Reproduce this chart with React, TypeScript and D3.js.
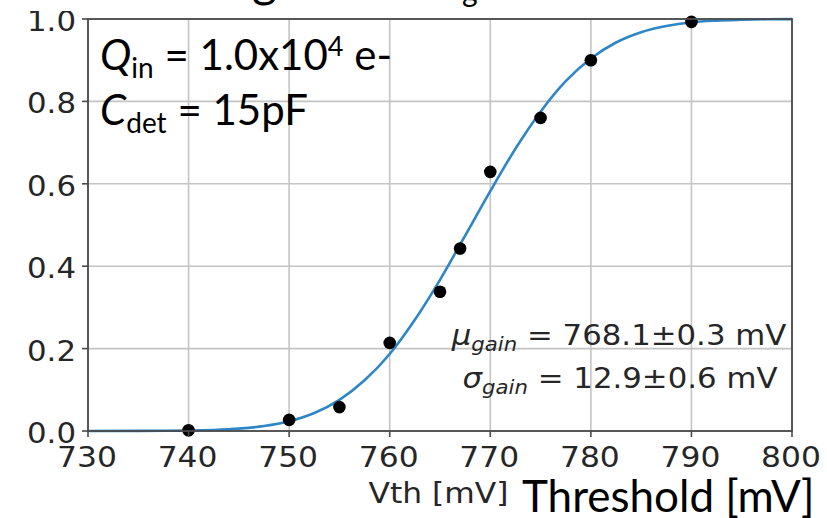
import React from "react";
import * as d3 from "d3";

const thresholds = [740, 750, 755, 760, 765, 767, 770, 775, 780, 790];
const efficiency = [0.002, 0.027, 0.058, 0.214, 0.338, 0.443, 0.629, 0.76, 0.9, 0.993];
const efficiencyErr = [0.004, 0.008, 0.009, 0.013, 0.014, 0.014, 0.014, 0.013, 0.01, 0.005];

const fitX = [730, 735, 740, 742.5, 745, 747.5, 750, 752.5, 755, 757.5, 760, 762.5, 765, 767.5, 770, 772.5, 775, 777.5, 780, 782.5, 785, 787.5, 790, 792.5, 795, 797.5, 800];
const fitY = [0.0, 0.0002, 0.001, 0.0025, 0.0057, 0.012, 0.0236, 0.0437, 0.0757, 0.123, 0.187, 0.27, 0.367, 0.474, 0.582, 0.685, 0.775, 0.849, 0.904, 0.943, 0.968, 0.983, 0.992, 0.996, 0.998, 0.9994, 0.9998];

const xTicks = [730, 740, 750, 760, 770, 780, 790, 800];
const yTicks = [0, 0.2, 0.4, 0.6, 0.8, 1.0];

const W = 827;
const H = 518;
const left = 88, right = 792, top = 19, bottom = 431;
const SX = 1.12;

function DText(props: { x: number; y: number; anchor?: string; size: number; children: React.ReactNode; fill?: string }) {
  const { x, y, anchor = "start", size, children, fill = "#262626" } = props;
  return (
    <g transform={`translate(${x},${y}) scale(${SX},1)`}>
      <text x={0} y={0} textAnchor={anchor as any} fontFamily="DejaVu Sans" fontSize={size} fill={fill}>
        {children}
      </text>
    </g>
  );
}

export default function App() {
  const x = d3.scaleLinear().domain([730, 800]).range([left, right]);
  const y = d3.scaleLinear().domain([0, 1]).range([bottom, top]);
  const line = d3
    .line<number>()
    .x((_, i) => x(fitX[i]))
    .y((d) => y(d))
    .curve(d3.curveMonotoneX);
  const fitPath = line(fitY) || "";
  const cal = "Lato, 'Open Sans', sans-serif";

  return (
    <svg width={W} height={H} style={{ position: "absolute", left: 0, top: 0, background: "#fff" }}>
      <defs>
        <clipPath id="plotclip">
          <rect x={left} y={top - 2} width={right - left} height={bottom - top + 4} />
        </clipPath>
        <clipPath id="titleclip">
          <rect x={0} y={0} width={W} height={16} />
        </clipPath>
      </defs>
      <rect x={0} y={0} width={W} height={H} fill="#fff" />
      {/* title fragments cut off at top */}
      <g clipPath="url(#titleclip)">
        <text x={252} y={-3} fontFamily={cal} fontSize={48} fill="#000">g</text>
        <text x={462} y={2} fontFamily={cal} fontSize={30} fill="#000">g</text>
      </g>
      {/* grid */}
      {xTicks.map((t) => (
        <line key={"gx" + t} x1={x(t)} x2={x(t)} y1={top} y2={bottom} stroke="#c4c4c4" strokeWidth={1.6} />
      ))}
      {yTicks.map((t) => (
        <line key={"gy" + t} x1={left} x2={right} y1={y(t)} y2={y(t)} stroke="#c4c4c4" strokeWidth={1.6} />
      ))}
      {/* fit curve */}
      <path d={fitPath} fill="none" stroke="#2f86c6" strokeWidth={2.6} clipPath="url(#plotclip)" />
      {/* error bars */}
      {thresholds.map((t, i) => (
        <line
          key={"e" + t}
          x1={x(t)}
          x2={x(t)}
          y1={y(efficiency[i] - efficiencyErr[i])}
          y2={y(efficiency[i] + efficiencyErr[i])}
          stroke="#000"
          strokeWidth={2.8}
        />
      ))}
      {thresholds.map((t, i) => (
        <circle key={"p" + t} cx={x(t)} cy={y(efficiency[i])} r={6.3} fill="#000" />
      ))}
      {/* spines */}
      <rect x={left} y={top} width={right - left} height={bottom - top} fill="none" stroke="#4a4a4a" strokeWidth={1.8} />
      {/* ticks */}
      {xTicks.map((t) => (
        <line key={"tx" + t} x1={x(t)} x2={x(t)} y1={bottom} y2={bottom + 6} stroke="#4a4a4a" strokeWidth={1.6} />
      ))}
      {yTicks.map((t) => (
        <line key={"ty" + t} x1={left - 6} x2={left} y1={y(t)} y2={y(t)} stroke="#4a4a4a" strokeWidth={1.6} />
      ))}
      {xTicks.map((t) => (
        <DText key={"lx" + t} x={x(t) - 1} y={467} anchor="middle" size={28}>
          {String(t)}
        </DText>
      ))}
      {yTicks.map((t) => (
        <DText key={"ly" + t} x={76} y={y(t) + 12} anchor="end" size={27.5}>
          {t.toFixed(1)}
        </DText>
      ))}
      <rect x={0} y={0} width={86} height={11} fill="#fff" />
      <DText x={438.5} y={503} anchor="middle" size={28}>
        Vth [mV]
      </DText>
      {/* fit result annotations */}
      <DText x={619} y={345} anchor="middle" size={27.5}>
        <tspan fontStyle="italic">μ</tspan>
        <tspan fontStyle="italic" fontSize={19} dy={6}>gain</tspan>
        <tspan dy={-6}> = 768.1±0.3 mV</tspan>
      </DText>
      <DText x={620} y={388} anchor="middle" size={27.5}>
        <tspan fontStyle="italic">σ</tspan>
        <tspan fontStyle="italic" fontSize={19} dy={6}>gain</tspan>
        <tspan dy={-6}> = 12.9±0.6 mV</tspan>
      </DText>
      {/* slide overlay texts */}
      <text x={100} y={70} fontFamily={cal} fontSize={42} fill="#000">
        <tspan fontStyle="italic">Q</tspan>
        <tspan fontSize={28} dy={8}>in</tspan>
        <tspan dy={-8}> = 1.0x10</tspan>
        <tspan fontSize={27} dy={-14}>4</tspan>
        <tspan dy={14}> e-</tspan>
      </text>
      <text x={100} y={125} fontFamily={cal} fontSize={42} fill="#000">
        <tspan fontStyle="italic">C</tspan>
        <tspan fontSize={28} dy={8}>det</tspan>
        <tspan dy={-8}> = 15pF</tspan>
      </text>
      <text x={522} y={512} fontFamily={cal} fontSize={44} fill="#000">
        Threshold [mV]
      </text>
    </svg>
  );
}
